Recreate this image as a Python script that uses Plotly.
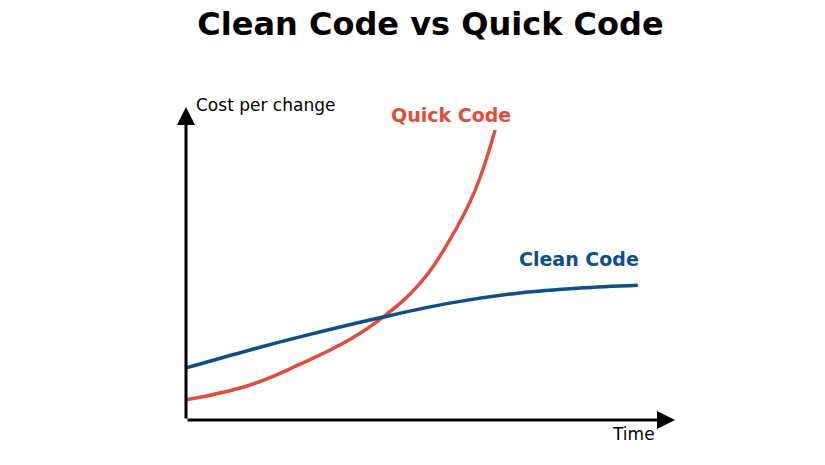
import plotly.graph_objects as go

# values (time vs cost per change)
quick_x = [0, 1.31, 2.33, 3.35, 4.03, 4.78, 5.39, 5.91, 6.32]
quick_y = [0.65, 1.13, 1.8, 2.6, 3.32, 4.4, 5.8, 7.4, 9.35]
clean_x = [0, 1.31, 2.33, 4.03, 5.39, 6.83, 8.06, 9.24]
clean_y = [1.68, 2.26, 2.68, 3.32, 3.77, 4.10, 4.26, 4.35]

red = "#e04e3b"
blue = "#0b4f8f"
font = "DejaVu Sans"

fig = go.Figure()
fig.add_trace(go.Scatter(x=quick_x, y=quick_y, mode="lines",
                         line=dict(color=red, width=3.5, shape="spline", smoothing=1.2)))
fig.add_trace(go.Scatter(x=clean_x, y=clean_y, mode="lines",
                         line=dict(color=blue, width=3.5, shape="spline")))

# axes drawn as arrows
for x, y in [(0, 10.1), (10, 0)]:
    fig.add_annotation(x=x, y=y, ax=0, ay=0, xref="x", yref="y", axref="x", ayref="y",
                       showarrow=True, arrowhead=2, arrowsize=1.2, arrowwidth=3,
                       arrowcolor="black", text="")

labels = [
    (0.016, 1.055, "Cost per change", "black", 17),
    (0.963, -0.084, "Time", "black", 17),
    (0.669, 1.026, "<b>Quick Code</b>", red, 19),
    (0.93, 0.519, "<b>Clean Code</b>", blue, 19),
]
for x, y, text, color, size in labels:
    fig.add_annotation(x=x, y=y, xref="paper", yref="paper", text=text, showarrow=False,
                       font=dict(family=font, size=size, color=color))

fig.update_layout(
    width=825, height=465,
    margin=dict(l=178, r=158, t=102, b=53),
    title=dict(text="<b>Clean Code vs Quick Code</b>", x=0.5, xref="paper",
               y=0.965, yanchor="middle",
               font=dict(family=font, size=32, color="black")),
    showlegend=False,
    plot_bgcolor="white", paper_bgcolor="white",
    xaxis=dict(range=[0, 10], visible=False),
    yaxis=dict(range=[0, 10], visible=False),
)

fig.write_html("out.html")
